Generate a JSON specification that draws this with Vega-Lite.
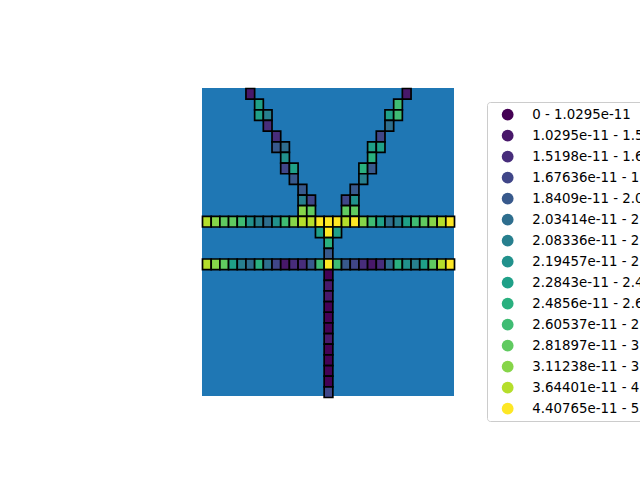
{
  "$schema": "https://vega.github.io/schema/vega-lite/v6.json",
  "width": 640,
  "height": 480,
  "padding": 0,
  "autosize": {"type": "none"},
  "background": "white",
  "config": {"view": {"stroke": null}},
  "datasets": {
    "extent": [{"c0": 0, "c1": 29, "r0": 0, "r1": 28.9}],
    "cells": [
      {"c": 5, "r": 0, "k": 1}, {"c": 23, "r": 0, "k": 1},
      {"c": 6, "r": 1, "k": 8}, {"c": 22, "r": 1, "k": 10},
      {"c": 6, "r": 2, "k": 8}, {"c": 7, "r": 2, "k": 6}, {"c": 21, "r": 2, "k": 8}, {"c": 22, "r": 2, "k": 10},
      {"c": 7, "r": 3, "k": 2}, {"c": 21, "r": 3, "k": 5},
      {"c": 8, "r": 4, "k": 2}, {"c": 20, "r": 4, "k": 3},
      {"c": 8, "r": 5, "k": 4}, {"c": 9, "r": 5, "k": 5}, {"c": 19, "r": 5, "k": 8}, {"c": 20, "r": 5, "k": 8},
      {"c": 9, "r": 6, "k": 7}, {"c": 19, "r": 6, "k": 9},
      {"c": 9, "r": 7, "k": 3}, {"c": 10, "r": 7, "k": 8}, {"c": 18, "r": 7, "k": 9}, {"c": 19, "r": 7, "k": 4},
      {"c": 10, "r": 8, "k": 4}, {"c": 18, "r": 8, "k": 6},
      {"c": 11, "r": 9, "k": 4}, {"c": 17, "r": 9, "k": 4},
      {"c": 11, "r": 10, "k": 6}, {"c": 12, "r": 10, "k": 3}, {"c": 16, "r": 10, "k": 3}, {"c": 17, "r": 10, "k": 7},
      {"c": 11, "r": 11, "k": 12}, {"c": 12, "r": 11, "k": 11}, {"c": 16, "r": 11, "k": 11}, {"c": 17, "r": 11, "k": 11},
      {"c": 0, "r": 12, "k": 13}, {"c": 1, "r": 12, "k": 12}, {"c": 2, "r": 12, "k": 11}, {"c": 3, "r": 12, "k": 11},
      {"c": 4, "r": 12, "k": 10}, {"c": 5, "r": 12, "k": 7}, {"c": 6, "r": 12, "k": 6}, {"c": 7, "r": 12, "k": 5},
      {"c": 8, "r": 12, "k": 7}, {"c": 9, "r": 12, "k": 10}, {"c": 10, "r": 12, "k": 12}, {"c": 11, "r": 12, "k": 13},
      {"c": 12, "r": 12, "k": 13}, {"c": 13, "r": 12, "k": 14}, {"c": 14, "r": 12, "k": 14}, {"c": 15, "r": 12, "k": 14},
      {"c": 16, "r": 12, "k": 13}, {"c": 17, "r": 12, "k": 14}, {"c": 18, "r": 12, "k": 12}, {"c": 19, "r": 12, "k": 10},
      {"c": 20, "r": 12, "k": 8}, {"c": 21, "r": 12, "k": 5}, {"c": 22, "r": 12, "k": 6}, {"c": 23, "r": 12, "k": 8},
      {"c": 24, "r": 12, "k": 10}, {"c": 25, "r": 12, "k": 11}, {"c": 26, "r": 12, "k": 12}, {"c": 27, "r": 12, "k": 13},
      {"c": 28, "r": 12, "k": 14},
      {"c": 13, "r": 13, "k": 8}, {"c": 14, "r": 13, "k": 14}, {"c": 15, "r": 13, "k": 8},
      {"c": 14, "r": 14, "k": 9},
      {"c": 14, "r": 15, "k": 4},
      {"c": 0, "r": 16, "k": 13}, {"c": 1, "r": 16, "k": 12}, {"c": 2, "r": 16, "k": 11}, {"c": 3, "r": 16, "k": 8},
      {"c": 4, "r": 16, "k": 6}, {"c": 5, "r": 16, "k": 5}, {"c": 6, "r": 16, "k": 9}, {"c": 7, "r": 16, "k": 5},
      {"c": 8, "r": 16, "k": 3}, {"c": 9, "r": 16, "k": 1}, {"c": 10, "r": 16, "k": 2}, {"c": 11, "r": 16, "k": 2},
      {"c": 12, "r": 16, "k": 4}, {"c": 13, "r": 16, "k": 10}, {"c": 14, "r": 16, "k": 14}, {"c": 15, "r": 16, "k": 10},
      {"c": 16, "r": 16, "k": 4}, {"c": 17, "r": 16, "k": 3}, {"c": 18, "r": 16, "k": 2}, {"c": 19, "r": 16, "k": 1},
      {"c": 20, "r": 16, "k": 2}, {"c": 21, "r": 16, "k": 5}, {"c": 22, "r": 16, "k": 9}, {"c": 23, "r": 16, "k": 7},
      {"c": 24, "r": 16, "k": 6}, {"c": 25, "r": 16, "k": 8}, {"c": 26, "r": 16, "k": 11}, {"c": 27, "r": 16, "k": 13},
      {"c": 28, "r": 16, "k": 14},
      {"c": 14, "r": 17, "k": 0}, {"c": 14, "r": 18, "k": 1}, {"c": 14, "r": 19, "k": 1}, {"c": 14, "r": 20, "k": 0},
      {"c": 14, "r": 21, "k": 0}, {"c": 14, "r": 22, "k": 0}, {"c": 14, "r": 23, "k": 1}, {"c": 14, "r": 24, "k": 0},
      {"c": 14, "r": 25, "k": 0}, {"c": 14, "r": 26, "k": 0}, {"c": 14, "r": 27, "k": 0}, {"c": 14, "r": 28, "k": 3}
    ]
  },
  "layer": [
    {
      "data": {"name": "extent"},
      "mark": {"type": "rect", "color": "#1f77b4"},
      "encoding": {
        "x": {"field": "c0", "type": "quantitative", "axis": null,
              "scale": {"domain": [-23.246, 50.405], "nice": false, "zero": false}},
        "x2": {"field": "c1"},
        "y": {"field": "r0", "type": "quantitative", "axis": null,
              "scale": {"domain": [-8.259, 36.79], "nice": false, "zero": false, "reverse": true}},
        "y2": {"field": "r1"}
      }
    },
    {
      "data": {"name": "cells"},
      "mark": {"type": "rect", "stroke": "black", "strokeWidth": 1.7, "opacity": 1},
      "encoding": {
        "x": {"field": "c", "type": "quantitative", "bin": {"binned": true, "step": 1}, "axis": null,
              "scale": {"domain": [-23.246, 50.405], "nice": false, "zero": false}},
        "y": {"field": "r", "type": "quantitative", "bin": {"binned": true, "step": 1}, "axis": null,
              "scale": {"domain": [-8.259, 36.79], "nice": false, "zero": false, "reverse": true}},
        "color": {
          "field": "k",
          "type": "ordinal",
          "scale": {
            "domain": [0, 1, 2, 3, 4, 5, 6, 7, 8, 9, 10, 11, 12, 13, 14],
            "range": ["#440154", "#48186a", "#472d7b", "#404688", "#38598c", "#2e6e8e", "#277f8e", "#21918c",
                      "#1fa088", "#2ab07f", "#3fbc73", "#60ca60", "#86d549", "#b5de2b", "#fde725"]
          },
          "legend": {
            "orient": "none",
            "legendX": 487,
            "legendY": 102,
            "title": null,
            "symbolType": "circle",
            "symbolSize": 140,
            "symbolStrokeWidth": 0,
            "symbolOffset": 8,
            "labelOffset": 18,
            "labelFont": "DejaVu Sans",
            "labelFontSize": 13.33,
            "labelColor": "black",
            "labelLimit": 400,
            "rowPadding": 7,
            "padding": 6,
            "fillColor": "white",
            "strokeColor": "#cccccc",
            "cornerRadius": 3,
            "labelExpr": "['0 - 1.0295e-11', '1.0295e-11 - 1.5198e-11', '1.5198e-11 - 1.67636e-11', '1.67636e-11 - 1.8409e-11', '1.8409e-11 - 2.03414e-11', '2.03414e-11 - 2.08336e-11', '2.08336e-11 - 2.19457e-11', '2.19457e-11 - 2.2843e-11', '2.2843e-11 - 2.4856e-11', '2.4856e-11 - 2.60537e-11', '2.60537e-11 - 2.81897e-11', '2.81897e-11 - 3.11238e-11', '3.11238e-11 - 3.64401e-11', '3.64401e-11 - 4.40765e-11', '4.40765e-11 - 5.27093e-11'][datum.value]"
          }
        }
      }
    }
  ]
}
